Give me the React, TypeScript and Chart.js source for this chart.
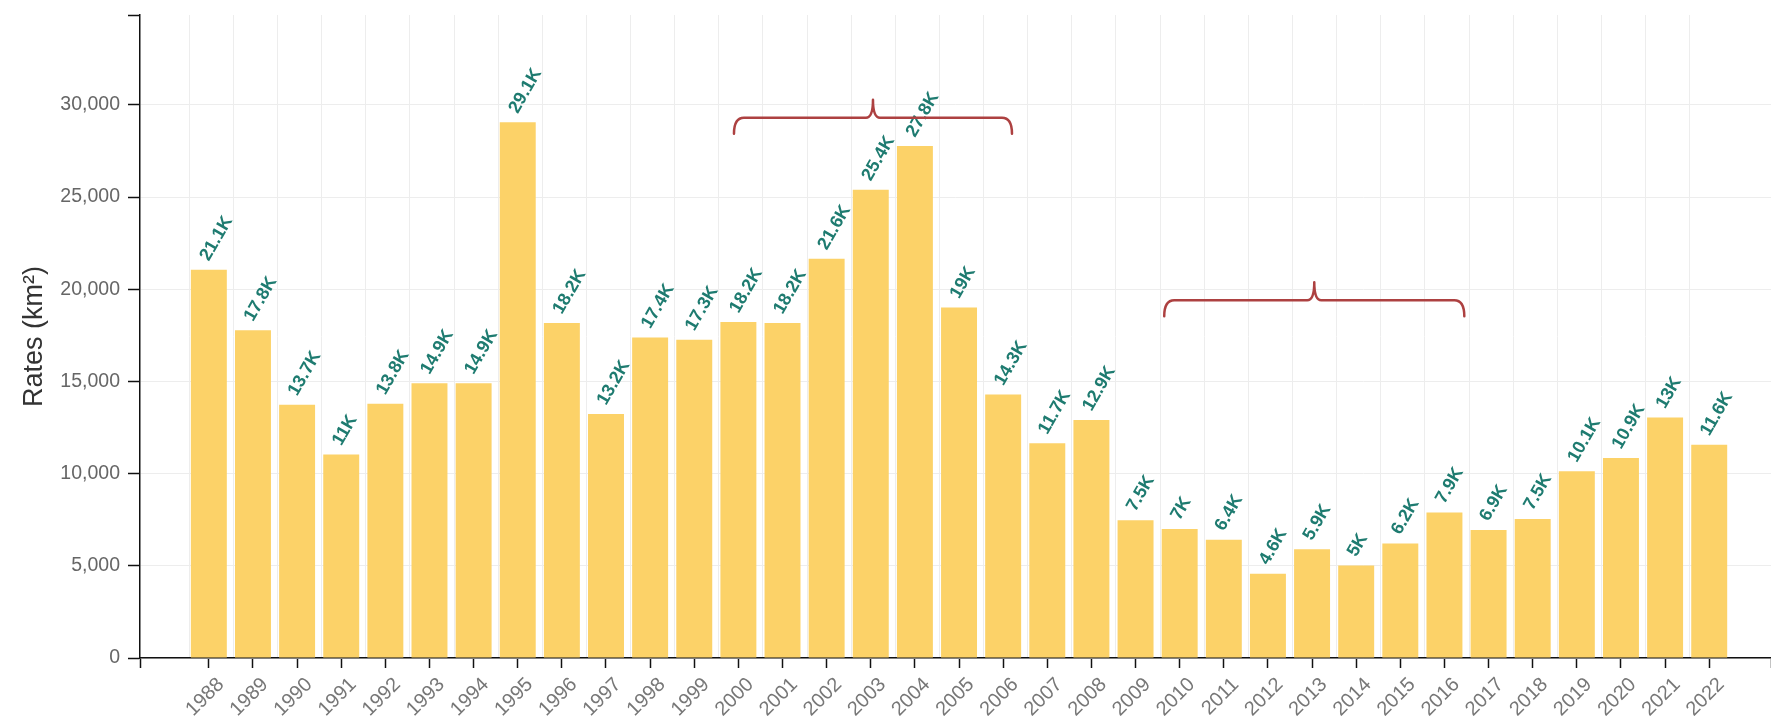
import React, { useEffect, useRef } from 'react';
import { Chart, registerables } from 'chart.js';

Chart.register(...registerables);

const years = [
  1988, 1989, 1990, 1991, 1992, 1993, 1994, 1995, 1996, 1997, 1998, 1999,
  2000, 2001, 2002, 2003, 2004, 2005, 2006, 2007, 2008, 2009, 2010, 2011,
  2012, 2013, 2014, 2015, 2016, 2017, 2018, 2019, 2020, 2021, 2022,
];

const rates = [
  21050, 17770, 13730, 11030, 13786, 14896, 14896, 29059, 18161, 13227, 17383, 17259,
  18226, 18165, 21650, 25396, 27772, 19014, 14286, 11651, 12911, 7464, 7000, 6418,
  4571, 5891, 5012, 6207, 7893, 6947, 7536, 10129, 10851, 13038, 11568,
];

const valueLabels = [
  '21.1K', '17.8K', '13.7K', '11K', '13.8K', '14.9K', '14.9K', '29.1K', '18.2K', '13.2K', '17.4K', '17.3K',
  '18.2K', '18.2K', '21.6K', '25.4K', '27.8K', '19K', '14.3K', '11.7K', '12.9K', '7.5K', '7K', '6.4K',
  '4.6K', '5.9K', '5K', '6.2K', '7.9K', '6.9K', '7.5K', '10.1K', '10.9K', '13K', '11.6K',
];

const yTicks = [0, 5000, 10000, 15000, 20000, 25000, 30000];
const yMax = 34871;
const xMin = 1986.44;
const xMax = 2023.4;

const braceStart = [1999.9, 2009.65];
const braceEnd = [2006.2, 2016.45];
const braceLevel = [29300, 19400];

const FONT = "'Liberation Sans', Arial, sans-serif";

const zeroPad = (s: any) => {
  s.paddingLeft = 0;
  s.paddingRight = 0;
  s.paddingTop = 0;
  s.paddingBottom = 0;
};

const valueLabelPlugin = {
  id: 'valueLabels',
  afterDatasetsDraw(chart: any) {
    const ctx = chart.ctx;
    const meta = chart.getDatasetMeta(0);
    ctx.save();
    ctx.fillStyle = '#1e7b70';
    ctx.font = `bold 18px ${FONT}`;
    ctx.textAlign = 'left';
    ctx.textBaseline = 'alphabetic';
    meta.data.forEach((el: any, i: number) => {
      ctx.save();
      ctx.translate(el.x, el.y - 8);
      ctx.rotate(-Math.PI / 3);
      ctx.fillText(valueLabels[i], 0, 0);
      ctx.restore();
    });
    ctx.restore();
  },
};

const bracePlugin = {
  id: 'braces',
  afterDatasetsDraw(chart: any) {
    const ctx = chart.ctx;
    const xs = chart.scales.x;
    const ys = chart.scales.y;
    ctx.save();
    ctx.strokeStyle = '#ad4141';
    ctx.lineWidth = 2.5;
    ctx.lineJoin = 'round';
    ctx.lineCap = 'round';
    braceStart.forEach((s, i) => {
      const x1 = xs.getPixelForValue(s);
      const x2 = xs.getPixelForValue(braceEnd[i]);
      const xm = (x1 + x2) / 2;
      const y = ys.getPixelForValue(braceLevel[i]);
      const r = 10;
      const drop = 16;
      const rise = 18;
      ctx.beginPath();
      ctx.moveTo(x1, y + drop);
      ctx.quadraticCurveTo(x1, y, x1 + r, y);
      ctx.lineTo(xm - 7, y);
      ctx.quadraticCurveTo(xm, y, xm, y - rise);
      ctx.quadraticCurveTo(xm, y, xm + 7, y);
      ctx.lineTo(x2 - r, y);
      ctx.quadraticCurveTo(x2, y, x2, y + drop);
      ctx.stroke();
    });
    ctx.restore();
  },
};

export default function App() {
  const canvasRef = useRef<HTMLCanvasElement | null>(null);

  useEffect(() => {
    if (!canvasRef.current) return;
    const chart = new Chart(canvasRef.current, {
      type: 'bar',
      data: {
        datasets: [
          {
            data: years.map((y, i) => ({ x: y, y: rates[i] })),
            backgroundColor: '#fcd268',
            borderWidth: 0,
            barPercentage: 0.815,
            categoryPercentage: 1,
          },
        ],
      },
      options: {
        responsive: false,
        animation: false,
        devicePixelRatio: 1,
        layout: { padding: { top: 15, left: 0, right: 0, bottom: 0 } },
        plugins: { legend: { display: false }, tooltip: { enabled: false } },
        scales: {
          x: {
            type: 'linear',
            position: 'bottom',
            offset: false,
            min: xMin,
            max: xMax,
            afterBuildTicks: (s: any) => {
              s.ticks = [xMin, ...years, xMax].map((v) => ({ value: v }));
            },
            afterFit: (s: any) => {
              s.height = 60;
              zeroPad(s);
            },
            grid: {
              display: true,
              offset: false,
              drawOnChartArea: false,
              drawTicks: true,
              tickLength: 10,
              tickColor: '#111',
              tickWidth: 1.5,
            },
            border: { display: true, color: '#111', width: 1.5 },
            ticks: {
              autoSkip: false,
              maxRotation: 45,
              minRotation: 45,
              color: '#777',
              padding: 5,
              labelOffset: 12,
              font: { size: 20, family: FONT },
              callback: (v: any) => (years.includes(v) ? String(v) : ''),
            },
          },
          xg: {
            type: 'linear',
            position: 'top',
            offset: false,
            min: xMin,
            max: xMax,
            afterBuildTicks: (s: any) => {
              s.ticks = years.map((v) => ({ value: v - 0.443 }));
            },
            afterFit: (s: any) => {
              s.height = 0;
              zeroPad(s);
            },
            ticks: { display: false },
            grid: { drawTicks: false, offset: false, color: '#ededed', lineWidth: 1 },
            border: { display: false },
          },
          y: {
            type: 'linear',
            min: 0,
            max: yMax,
            afterBuildTicks: (s: any) => {
              s.ticks = [...yTicks, yMax].map((v) => ({ value: v }));
            },
            afterFit: (s: any) => {
              s.width = 140;
              zeroPad(s);
            },
            grid: {
              color: (c: any) => (c.tick && c.tick.value === yMax ? 'rgba(0,0,0,0)' : '#ededed'),
              tickColor: '#111',
              tickLength: 12,
              tickWidth: 1.5,
              drawTicks: true,
            },
            border: { color: '#111', width: 1.5 },
            ticks: {
              color: '#666',
              padding: 8,
              font: { size: 19.5, family: FONT },
              callback: (v: any) => (v === yMax ? '' : Number(v).toLocaleString('en-US')),
            },
            title: {
              display: true,
              text: 'Rates (km²)',
              color: '#333',
              font: { size: 27, family: FONT },
              padding: { top: 18, bottom: 0 },
            },
          },
        },
      } as any,
      plugins: [valueLabelPlugin, bracePlugin],
    });
    return () => chart.destroy();
  }, []);

  return (
    <div style={{ position: 'fixed', left: 0, top: 0, width: 1771, height: 718, background: '#fff' }}>
      <canvas ref={canvasRef} width={1771} height={718} style={{ width: 1771, height: 718 }} />
    </div>
  );
}
